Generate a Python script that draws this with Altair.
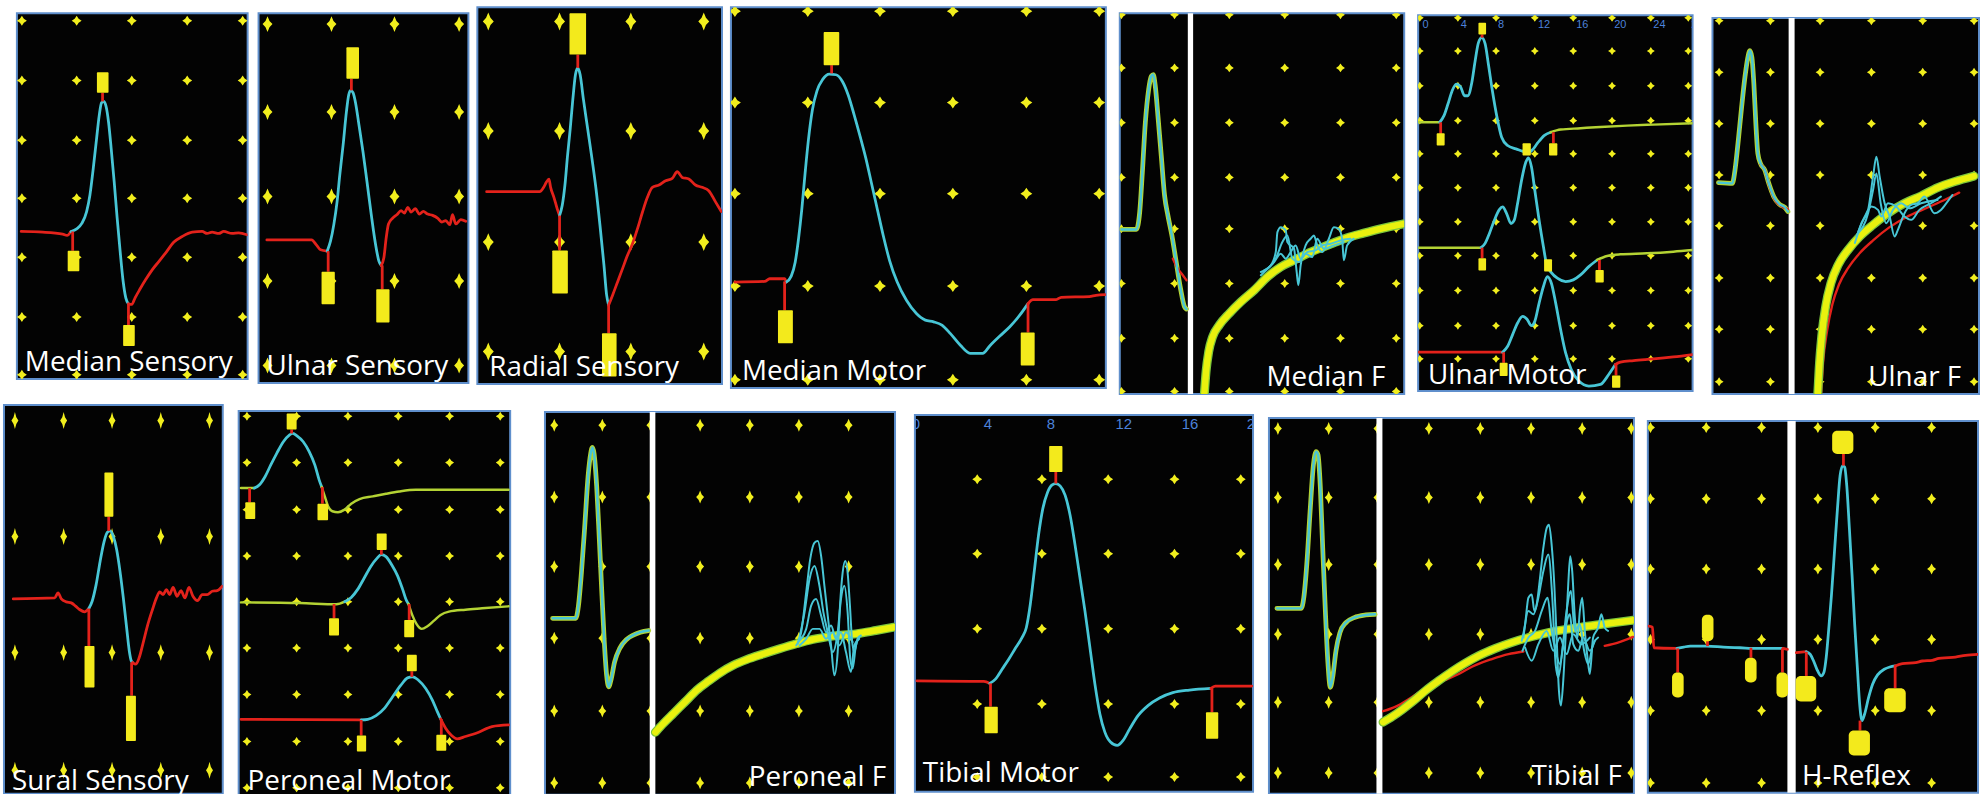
import altair as alt
import pandas as pd

# ---------------- colours / line styles ----------------
BORDER = "#5f8fcc"
BG = "#030303"
DOT = "#f1ee1d"
MARK = "#f3ea1c"
RED = "#e3221b"
CYAN = "#48c6d6"
LIME = "#b4d334"
GREEN = "#7cc63a"
BAND = "#e9f10e"
AXBLUE = "#4c82da"
STYLE = {
    "red": (RED, 2.8), "cyan": (CYAN, 2.8), "lime": (LIME, 2.5),
    "edge": (GREEN, 9.0), "band": (BAND, 6.5), "fw": (CYAN, 2.0),
    "sup": (LIME, 4.8), "supc": (CYAN, 2.4), "redthin": (RED, 2.4),
}

# ---------------- data (trace samples, panel units) ----------------
# Median Sensory
MS_COLS = [57, 222, 388, 555, 722]
MS_ROWS = [45, 225, 405, 580, 758, 938, 1112]
MS_BASE = [(55, 680), (120, 682), (180, 688), (193, 692), (205, 680)]
MS_WAVE = [(205, 680), (222, 672), (238, 655), (252, 620), (262, 570), (272, 490), (282, 400), (290, 330),
           (297, 292), (304, 288), (311, 305), (318, 350), (326, 430), (335, 530), (344, 640), (353, 740),
           (362, 830), (370, 880), (378, 898)]
MS_TAIL = [(378, 898), (388, 900), (398, 880), (412, 855), (430, 825), (450, 795), (470, 770), (492, 742),
           (515, 712), (540, 695), (570, 682), (600, 680), (615, 686), (630, 682), (650, 686), (665, 680),
           (690, 686), (710, 684), (735, 690)]
MS_TICKS = [(300, 288, 262), (210, 680, 738), (378, 900, 962)]
MS_MARKS = [(283, 318, 200, 262), (195, 230, 738, 800), (362, 397, 962, 1025)]

# Ulnar Sensory
US_COLS = [42, 235, 425, 620]
US_ROWS = [55, 320, 575, 830, 1085]
US_BASE = [(40, 706), (175, 706), (190, 722), (202, 736), (222, 740)]
US_WAVE = [(222, 740), (232, 710), (242, 660), (252, 590), (260, 510), (270, 420), (280, 320), (287, 268),
           (293, 255), (300, 262), (308, 295), (318, 360), (330, 440), (342, 530), (355, 630), (368, 720),
           (378, 770), (385, 783)]
US_TAIL = [(385, 783), (393, 760), (400, 700), (407, 658), (420, 640), (432, 630), (445, 618), (455, 625),
           (465, 608), (475, 622), (488, 612), (500, 628), (512, 620), (525, 628), (540, 632), (555, 640),
           (568, 652), (580, 648), (592, 660), (600, 630), (610, 658), (625, 645), (640, 650)]
US_TICKS = [(295, 255, 220), (225, 740, 802), (388, 783, 855)]
US_MARKS = [(280, 318, 125, 220), (205, 245, 802, 900), (370, 410, 855, 955)]

# Radial Sensory
RS_COLS = [695, 910, 1125, 1345]
RS_ROWS = [55, 385, 720, 1050]
RS_BASE = [(690, 568), (850, 568), (862, 555), (870, 540), (878, 530), (883, 555), (893, 585), (903, 620),
           (910, 640)]
RS_WAVE = [(910, 640), (918, 610), (926, 550), (934, 460), (942, 380), (950, 290), (958, 215), (965, 195),
           (972, 215), (982, 290), (995, 380), (1008, 470), (1020, 560), (1032, 670), (1044, 790),
           (1052, 880), (1058, 910)]
RS_TAIL = [(1058, 910), (1070, 880), (1085, 840), (1100, 800), (1115, 760), (1130, 725), (1145, 680),
           (1160, 630), (1175, 585), (1190, 555), (1210, 548), (1230, 535), (1250, 528), (1265, 508),
           (1280, 525), (1300, 530), (1320, 548), (1340, 555), (1360, 565), (1380, 598), (1398, 628)]
RS_TICKS = [(965, 195, 155), (910, 640, 745), (1058, 910, 995)]
RS_MARKS = [(940, 990, 30, 155), (888, 935, 745, 875), (1038, 1082, 995, 1125)]

# Median Motor
MM_COLS = [30, 250, 468, 688, 910, 1130]
MM_ROWS = [22, 298, 573, 852, 1135]
MM_BASE = [(30, 840), (120, 838), (135, 830), (180, 830), (185, 840)]
MM_WAVE = [(185, 840), (200, 822), (212, 780), (222, 710), (232, 620), (242, 510), (252, 410), (264, 320),
           (278, 262), (295, 228), (315, 212), (335, 214), (355, 235), (372, 275), (390, 335), (408, 400),
           (425, 465), (442, 540), (460, 620), (478, 700), (497, 775), (520, 840), (548, 895), (578, 935),
           (605, 955), (630, 960), (655, 970), (680, 995), (710, 1030), (740, 1055), (778, 1055),
           (800, 1032), (830, 1003), (860, 975), (890, 940), (915, 905)]
MM_TAIL = [(915, 905), (930, 893), (1000, 893), (1015, 886), (1100, 884), (1120, 880), (1148, 878)]
MM_TICKS = [(322, 210, 185), (180, 838, 925), (915, 905, 992)]
MM_MARKS = [(298, 345, 85, 185), (160, 205, 925, 1025), (893, 935, 992, 1092)]

# Median F
MF_COLS = [20, 180, 345, 512, 680, 848]
MF_ROWS = [25, 185, 350, 515, 670, 835, 1000, 1160]
MF_LEFT = [(20, 672), (65, 672), (75, 620), (83, 500), (92, 350), (102, 250), (110, 210), (116, 205),
           (122, 240), (130, 330), (140, 450), (150, 570), (160, 630), (172, 690), (185, 770), (198, 850),
           (210, 905), (216, 912)]
MF_LEFT_RED = [(175, 760), (190, 790), (205, 810), (216, 825)]
MF_BAND = [(270, 1165), (275, 1100), (283, 1040), (295, 995), (315, 960), (345, 925), (380, 890),
           (420, 855), (460, 815), (500, 785), (540, 765), (580, 745), (620, 728), (660, 712), (700, 697),
           (750, 683), (800, 670), (870, 655)]
MF_F1 = [(440, 800), (470, 780), (485, 740), (490, 680), (500, 665), (515, 675), (520, 710), (540, 730),
         (548, 800), (553, 840), (560, 780), (575, 720), (590, 700), (600, 690), (610, 720), (625, 740),
         (645, 700), (660, 665), (675, 670), (685, 700), (690, 765), (700, 720), (720, 700)]
MF_F2 = [(440, 810), (480, 770), (500, 745), (515, 760), (530, 740), (545, 720), (560, 760), (580, 740),
         (605, 735), (625, 720), (650, 715), (680, 705), (710, 700)]
MF_F3 = [(450, 795), (485, 760), (505, 710), (520, 690), (535, 760), (555, 770), (575, 745), (595, 755),
         (610, 700), (630, 730), (660, 720), (690, 710)]

# Ulnar Motor
UM_COLS = [15, 130, 245, 362, 478, 595, 712, 825]
UM_ROWS = [40, 140, 245, 350, 450, 552, 655, 757, 862, 968, 1068]
UM_A_BASE = [(10, 355), (75, 355)]
UM_A_WAVE = [(75, 355), (88, 335), (100, 300), (112, 262), (125, 240), (138, 248), (150, 275), (160, 275),
             (172, 235), (182, 170), (192, 115), (202, 100), (212, 118), (222, 180), (234, 260), (248, 340),
             (262, 400), (280, 425), (305, 435), (325, 442), (340, 448), (355, 438), (370, 418), (390, 395),
             (410, 385)]
UM_A_TAIL = [(410, 385), (440, 377), (500, 373), (560, 369), (640, 365), (720, 362), (838, 358)]
UM_B_BASE = [(10, 733), (200, 733)]
UM_B_WAVE = [(200, 733), (212, 720), (225, 690), (240, 650), (255, 618), (265, 610), (277, 630), (290, 660),
             (300, 650), (310, 600), (322, 530), (335, 475), (343, 462), (352, 490), (362, 560), (375, 650),
             (388, 730), (398, 785), (412, 808), (430, 825), (455, 835), (478, 830), (500, 815), (525, 790),
             (550, 770)]
UM_B_TAIL = [(550, 770), (580, 758), (620, 753), (700, 750), (780, 745), (838, 740)]
UM_C_BASE = [(10, 1048), (265, 1048)]
UM_C_WAVE = [(265, 1048), (280, 1030), (295, 995), (310, 960), (325, 940), (338, 948), (352, 968),
             (362, 955), (375, 900), (388, 850), (400, 820), (412, 840), (425, 900), (440, 980), (455, 1050),
             (472, 1100), (495, 1135), (525, 1150), (560, 1145), (585, 1115), (605, 1085)]
UM_C_TAIL = [(605, 1085), (620, 1078), (660, 1073), (720, 1068), (780, 1062), (838, 1055)]
UM_TICKS = [(78, 355, 390), (203, 100, 90), (418, 385, 418), (203, 733, 765), (557, 770, 800),
            (268, 1048, 1080), (607, 1085, 1118)]
UM_MARKS = [(66, 90, 388, 425), (192, 215, 55, 90), (325, 350, 418, 455), (405, 430, 418, 455),
            (192, 215, 765, 802), (390, 414, 768, 805), (545, 570, 800, 838), (256, 280, 1080, 1120),
            (595, 620, 1118, 1155)]
UM_AXIS_TEXT = ["0", "4", "8", "12", "16", "20", "24", "28"]
UM_AXIS_X = [32, 148, 260, 390, 505, 620, 738, 852]

# Ulnar F
UF_COLS = [40, 195, 345, 500, 655, 810]
UF_ROWS = [50, 205, 360, 515, 668, 825, 980, 1138]
UF_LEFT = [(38, 538), (80, 540), (88, 500), (98, 410), (108, 310), (118, 220), (126, 165), (133, 140),
           (139, 160), (145, 240), (151, 360), (157, 450), (165, 480), (178, 500), (190, 540), (205, 580),
           (222, 603), (238, 612), (248, 625)]
UF_LEFT_RED = [(165, 482), (178, 500), (192, 548), (210, 592), (230, 610), (248, 618)]
UF_RED = [(348, 1175), (354, 1080), (366, 985), (382, 905), (402, 845), (430, 795), (465, 750), (505, 712),
          (555, 672), (605, 642), (665, 615), (725, 588), (765, 568)]
UF_BAND = [(338, 1175), (342, 1100), (350, 1000), (362, 910), (378, 840), (400, 785), (430, 740),
           (465, 700), (505, 665), (550, 630), (600, 600), (650, 578), (700, 553), (750, 535), (810, 518)]
UF_F1 = [(450, 720), (470, 660), (490, 620), (505, 520), (515, 460), (525, 520), (540, 600), (555, 640),
         (570, 700), (580, 680), (600, 630), (620, 605), (640, 600), (660, 580), (690, 630), (710, 620),
         (730, 595), (745, 575)]
UF_F2 = [(455, 700), (480, 640), (500, 610), (520, 620), (530, 640), (550, 600), (575, 610), (600, 640),
         (620, 650), (645, 620), (680, 600), (710, 580)]
UF_F3 = [(460, 690), (490, 630), (505, 560), (515, 510), (528, 600), (545, 660), (565, 620), (590, 600),
         (615, 615), (650, 600), (700, 590)]

# Sural Sensory
SS_COLS = [45, 192, 338, 485, 632]
SS_ROWS = [65, 415, 765, 1120]
SS_BASE = [(40, 603), (165, 600), (175, 585), (185, 603), (200, 612), (215, 615), (228, 625), (240, 635),
           (255, 642), (268, 632)]
SS_WAVE = [(268, 632), (278, 610), (290, 560), (302, 490), (314, 430), (324, 402), (332, 398), (342, 415),
           (352, 455), (362, 520), (372, 600), (382, 690), (390, 760), (396, 790), (400, 795)]
SS_TAIL = [(400, 795), (410, 800), (420, 780), (432, 735), (446, 680), (460, 635), (472, 600), (482, 582),
           (492, 590), (502, 575), (512, 590), (522, 568), (534, 595), (546, 578), (558, 600), (570, 568),
           (582, 595), (596, 608), (610, 590), (625, 590), (640, 580), (655, 578), (670, 565)]
SS_TICKS = [(328, 398, 355), (268, 632, 745), (397, 795, 895)]
SS_MARKS = [(315, 342, 222, 355), (255, 285, 745, 870), (380, 410, 895, 1032)]

# Peroneal Motor
PM_COLS = [740, 890, 1045, 1197, 1352, 1505]
PM_ROWS = [48, 188, 330, 470, 608, 748, 888, 1030, 1170]
PM_A_BASE = [(722, 265), (762, 265)]
PM_A_WAVE = [(762, 265), (778, 255), (795, 230), (812, 195), (830, 160), (850, 125), (868, 105), (878, 100),
             (892, 108), (910, 125), (928, 155), (945, 195), (958, 240), (966, 262)]
PM_A_TAIL = [(966, 262), (975, 290), (985, 320), (998, 335), (1015, 338), (1035, 330), (1055, 312),
             (1080, 298), (1120, 290), (1160, 282), (1200, 275), (1250, 270), (1400, 270), (1530, 270)]
PM_B_BASE = [(722, 610), (900, 612), (1010, 616), (1035, 608)]
PM_B_WAVE = [(1035, 608), (1055, 595), (1075, 570), (1095, 535), (1115, 500), (1132, 478), (1146, 466),
             (1160, 472), (1178, 498), (1195, 530), (1210, 570), (1222, 605), (1228, 615)]
PM_B_TAIL = [(1228, 615), (1240, 650), (1252, 675), (1268, 690), (1285, 682), (1305, 665), (1325, 648),
             (1350, 638), (1400, 632), (1450, 628), (1530, 622)]
PM_C_BASE = [(722, 963), (1085, 965)]
PM_C_WAVE = [(1085, 965), (1105, 963), (1130, 952), (1155, 930), (1180, 895), (1205, 860), (1225, 838),
             (1240, 835), (1258, 845), (1280, 870), (1300, 905), (1315, 940), (1325, 962)]
PM_C_TAIL = [(1325, 962), (1340, 990), (1358, 1012), (1375, 1022), (1400, 1015), (1440, 1002),
             (1480, 985), (1530, 980)]
PM_TICKS = [(748, 265, 308), (875, 100, 88), (968, 262, 312), (1146, 466, 452), (1003, 615, 658),
            (1230, 615, 663), (1238, 835, 818), (1085, 965, 1012), (1327, 962, 1010)]
PM_MARKS = [(735, 765, 308, 358), (860, 890, 40, 88), (953, 985, 312, 362), (1132, 1162, 402, 452),
            (988, 1018, 658, 710), (1215, 1245, 663, 715), (1223, 1253, 768, 818),
            (1072, 1100, 1012, 1060), (1312, 1342, 1010, 1058)]

# Peroneal F
PF_COLS = [40, 185, 330, 480, 630, 778, 928]
PF_ROWS = [75, 292, 502, 718, 938, 1155]
PF_LEFT = [(35, 658), (105, 658), (113, 620), (122, 520), (132, 380), (142, 230), (150, 160), (155, 142),
           (160, 160), (168, 260), (176, 420), (184, 590), (191, 730), (198, 830), (204, 865), (212, 840),
           (222, 790), (238, 748), (258, 722), (280, 708), (300, 700), (325, 695)]
PF_BAND = [(345, 1002), (370, 975), (400, 945), (435, 910), (470, 875), (505, 848), (540, 823), (580, 800),
           (620, 783), (670, 766), (720, 750), (770, 735), (820, 722), (880, 712), (950, 705), (1010, 695),
           (1065, 685)]
PF_F1 = [(770, 740), (785, 700), (800, 580), (812, 480), (825, 430), (835, 425), (845, 470), (855, 560),
         (865, 650), (875, 740), (885, 830), (895, 760), (902, 620), (910, 520), (918, 485), (925, 520),
         (932, 620), (938, 720), (945, 760), (955, 720), (965, 710)]
PF_F2 = [(775, 735), (795, 640), (810, 540), (825, 500), (840, 560), (852, 640), (865, 700), (880, 760),
         (895, 700), (905, 600), (915, 560), (925, 640), (933, 780), (940, 810), (950, 740), (960, 715)]
PF_F3 = [(775, 730), (800, 690), (815, 620), (830, 600), (845, 650), (860, 700), (875, 680), (890, 720),
         (905, 700), (920, 760), (935, 820), (945, 740), (960, 720)]
PF_F4 = [(780, 740), (800, 720), (820, 690), (840, 690), (860, 720), (880, 700), (900, 740), (920, 700),
         (940, 730)]

# Tibial Motor
TM_COLS = [230, 425, 625, 825, 1025]
TM_ROWS = [242, 467, 693, 920, 1140]
TM_BASE = [(48, 850), (250, 852), (268, 858)]
TM_WAVE = [(268, 858), (285, 845), (305, 815), (325, 785), (345, 752), (365, 720), (378, 690), (390, 620),
           (402, 520), (415, 410), (428, 330), (442, 282), (455, 260), (467, 255), (480, 262), (495, 290),
           (510, 350), (525, 440), (540, 540), (555, 640), (570, 750), (585, 860), (600, 950), (615, 1005),
           (632, 1035), (652, 1045), (670, 1030), (690, 995), (715, 955), (745, 925), (780, 902),
           (820, 886), (870, 878), (935, 873)]
TM_TAIL = [(935, 873), (948, 866), (1058, 866)]
TM_TICKS = [(467, 255, 220), (270, 858, 928), (938, 873, 945)]
TM_MARKS = [(447, 487, 142, 220), (252, 292, 928, 1008), (920, 957, 945, 1025)]
TM_AXIS_TEXT = ["0", "4", "8", "12", "16", "20"]
TM_AXIS_X = [45, 262, 452, 672, 872, 1068]

# Tibial F
TF_COLS = [35, 188, 335, 490, 645, 798, 952, 1100]
TF_ROWS = [90, 298, 500, 710, 915, 1128]
TF_LEFT = [(32, 632), (105, 632), (113, 600), (122, 500), (132, 340), (142, 200), (150, 160), (156, 170),
           (163, 270), (170, 450), (178, 640), (186, 800), (193, 870), (200, 840), (210, 760), (222, 705),
           (240, 675), (265, 660), (300, 652), (328, 650)]
TF_RED1 = [(352, 942), (390, 928), (430, 905), (480, 872), (540, 848), (580, 830), (620, 808), (680, 785),
           (730, 770), (775, 762)]
TF_RED2 = [(1020, 745), (1060, 735), (1105, 718)]
TF_BAND = [(352, 975), (380, 958), (410, 937), (445, 910), (480, 880), (520, 850), (560, 822), (600, 797),
           (640, 775), (690, 753), (740, 735), (790, 720), (850, 705), (920, 693), (990, 683), (1050, 675),
           (1105, 668)]
TF_F1 = [(770, 730), (780, 680), (790, 600), (800, 590), (808, 640), (815, 620), (825, 540), (835, 450),
         (845, 390), (852, 380), (860, 440), (868, 560), (875, 720), (882, 880), (888, 925), (895, 850),
         (902, 720), (910, 560), (916, 475), (922, 520), (930, 660), (938, 720), (945, 640), (952, 600),
         (960, 700), (968, 780), (975, 830), (985, 720), (1000, 690), (1010, 650), (1020, 690), (1030, 700)]
TF_F2 = [(775, 720), (790, 640), (805, 650), (820, 600), (835, 520), (850, 470), (862, 600), (872, 800),
         (880, 840), (892, 760), (905, 640), (918, 580), (930, 700), (945, 680), (958, 760), (970, 800),
         (985, 740), (1000, 720)]
TF_F3 = [(772, 760), (790, 720), (810, 700), (830, 640), (848, 600), (860, 700), (872, 760), (885, 800),
         (900, 700), (915, 650), (925, 740), (940, 760), (955, 720), (975, 760), (990, 730)]
TF_F4 = [(780, 750), (800, 790), (820, 740), (845, 700), (865, 760), (885, 720), (905, 770), (925, 710),
         (950, 740), (975, 720)]

# H-Reflex
HR_COLS = [30, 198, 365, 535, 708, 878]
HR_ROWS = [85, 300, 512, 725, 940, 1158]
HR_BASE1 = [(24, 685), (36, 688), (40, 750), (110, 752)]
HR_MID = [(110, 752), (130, 748), (150, 745), (200, 745), (250, 748), (300, 750), (350, 752), (430, 752)]
HR_BASE2 = [(430, 752), (443, 755)]
HR_BASE3 = [(470, 765), (500, 762)]
HR_WAVE = [(500, 762), (512, 770), (522, 790), (532, 815), (545, 835), (553, 825), (560, 780), (568, 690),
           (576, 590), (585, 460), (594, 330), (602, 230), (610, 200), (616, 205), (622, 260), (630, 390),
           (638, 530), (646, 680), (654, 810), (661, 920), (668, 970), (676, 950), (688, 900), (700, 860),
           (715, 832), (735, 815), (752, 808), (768, 805)]
HR_TAIL = [(768, 805), (790, 798), (830, 795), (850, 790), (880, 788), (900, 782), (930, 780), (950, 778),
           (980, 773), (1018, 770)]
HR_TICKS = [(202, 745, 730), (112, 752, 825), (333, 750, 780), (428, 752, 825), (500, 762, 835),
            (612, 200, 165), (662, 970, 1000), (768, 805, 872)]
HR_MARKS = [(185, 220, 650, 730), (95, 130, 825, 900), (315, 350, 780, 855), (410, 445, 825, 900),
            (468, 530, 835, 912), (578, 642, 95, 165), (628, 692, 1000, 1075), (735, 800, 872, 945)]

LABELS = {
    "ms": "Median Sensory", "us": "Ulnar Sensory", "rs": "Radial Sensory", "mm": "Median Motor",
    "mf": "Median F", "um": "Ulnar Motor", "uf": "Ulnar F", "ss": "Sural Sensory",
    "pm": "Peroneal Motor", "pf": "Peroneal F", "tm": "Tibial Motor", "tf": "Tibial F", "hr": "H-Reflex",
}

# ---------------- panel specifications ----------------
PANELS = {
    "ms": dict(xd=[42, 737], yd=[22, 1125], size=(232, 368), cols=MS_COLS, rows=MS_ROWS, dot=(10, 10),
               traces=[(MS_BASE, "red"), (MS_WAVE, "cyan"), (MS_TAIL, "red")],
               ticks=MS_TICKS, marks=MS_MARKS, lab=("left", 8, 8)),
    "us": dict(xd=[15, 648], yd=[22, 1138], size=(211, 372), cols=US_COLS, rows=US_ROWS, dot=(10, 16),
               traces=[(US_BASE, "red"), (US_WAVE, "cyan"), (US_TAIL, "red")],
               ticks=US_TICKS, marks=US_MARKS, lab=("left", 8, 8)),
    "rs": dict(xd=[662, 1400], yd=[12, 1148], size=(246, 379), cols=RS_COLS, rows=RS_ROWS, dot=(11, 18),
               traces=[(RS_BASE, "red"), (RS_WAVE, "cyan"), (RS_TAIL, "red")],
               ticks=RS_TICKS, marks=RS_MARKS, lab=("left", 12, 8)),
    "mm": dict(xd=[18, 1150], yd=[10, 1160], size=(377, 383), cols=MM_COLS, rows=MM_ROWS, dot=(12, 12),
               traces=[(MM_BASE, "red"), (MM_WAVE, "cyan"), (MM_TAIL, "red")],
               ticks=MM_TICKS, marks=MM_MARKS, lab=("left", 11, 8)),
    "mf": dict(xd=[15, 872], yd=[20, 1168], size=(286, 383), cols=MF_COLS, rows=MF_ROWS, dot=(9, 9),
               div=(220, 236),
               traces=[(MF_LEFT, "sup"), (MF_LEFT_RED, "redthin"), (MF_LEFT, "supc"),
                       (MF_BAND, "edge"), (MF_BAND, "band"), (MF_F2, "fw"), (MF_F3, "fw"), (MF_F1, "fw")],
               ticks=[], marks=[], lab=("right", 19, 8)),
    "um": dict(xd=[10, 838], yd=[32, 1165], size=(276, 378), cols=UM_COLS, rows=UM_ROWS, dot=(8, 8),
               traces=[(UM_A_BASE, "lime"), (UM_A_WAVE, "cyan"), (UM_A_TAIL, "lime"),
                       (UM_B_BASE, "lime"), (UM_B_WAVE, "cyan"), (UM_B_TAIL, "lime"),
                       (UM_C_BASE, "red"), (UM_C_WAVE, "cyan"), (UM_C_TAIL, "red")],
               ticks=UM_TICKS, marks=UM_MARKS, lab=("left", 10, 7),
               axis=(UM_AXIS_TEXT, UM_AXIS_X, 62, 11)),
    "uf": dict(xd=[20, 825], yd=[42, 1175], size=(268, 378), cols=UF_COLS, rows=UF_ROWS, dot=(9, 9),
               div=(250, 268),
               traces=[(UF_LEFT, "sup"), (UF_LEFT_RED, "redthin"), (UF_LEFT, "supc"),
                       (UF_RED, "redthin"), (UF_BAND, "edge"), (UF_BAND, "band"),
                       (UF_F2, "fw"), (UF_F3, "fw"), (UF_F1, "fw")],
               ticks=[], marks=[], lab=("right", 18, 8)),
    "ss": dict(xd=[12, 672], yd=[18, 1191], size=(220, 391), cols=SS_COLS, rows=SS_ROWS, dot=(7, 17),
               traces=[(SS_BASE, "red"), (SS_WAVE, "cyan"), (SS_TAIL, "red")],
               ticks=SS_TICKS, marks=SS_MARKS, lab=("left", 8, 4)),
    "pm": dict(xd=[715, 1535], yd=[32, 1194], size=(273, 387), cols=PM_COLS, rows=PM_ROWS, dot=(9, 9),
               traces=[(PM_A_BASE, "lime"), (PM_A_WAVE, "cyan"), (PM_A_TAIL, "lime"),
                       (PM_B_BASE, "lime"), (PM_B_WAVE, "cyan"), (PM_B_TAIL, "lime"),
                       (PM_C_BASE, "red"), (PM_C_WAVE, "cyan"), (PM_C_TAIL, "red")],
               ticks=PM_TICKS, marks=PM_MARKS, lab=("left", 9, 6)),
    "pf": dict(xd=[12, 1068], yd=[35, 1191], size=(352, 385), cols=PF_COLS, rows=PF_ROWS, dot=(8, 13),
               div=(328, 345),
               traces=[(PF_LEFT, "sup"), (PF_LEFT, "supc"), (PF_BAND, "edge"), (PF_BAND, "band"),
                       (PF_F4, "fw"), (PF_F3, "fw"), (PF_F2, "fw"), (PF_F1, "fw")],
               ticks=[], marks=[], lab=("right", 9, 9)),
    "tm": dict(xd=[42, 1062], yd=[48, 1185], size=(340, 379), cols=TM_COLS, rows=TM_ROWS, dot=(10, 10),
               traces=[(TM_BASE, "red"), (TM_WAVE, "cyan"), (TM_TAIL, "red")],
               ticks=TM_TICKS, marks=TM_MARKS, lab=("left", 8, 10),
               axis=(TM_AXIS_TEXT, TM_AXIS_X, 75, 15)),
    "tf": dict(xd=[8, 1108], yd=[58, 1191], size=(367, 378), cols=TF_COLS, rows=TF_ROWS, dot=(8, 13),
               div=(332, 350),
               traces=[(TF_LEFT, "sup"), (TF_LEFT, "supc"), (TF_RED1, "redthin"), (TF_RED2, "redthin"),
                       (TF_BAND, "edge"), (TF_BAND, "band"),
                       (TF_F4, "fw"), (TF_F3, "fw"), (TF_F2, "fw"), (TF_F1, "fw")],
               ticks=[], marks=[], lab=("right", 12, 9)),
    "hr": dict(xd=[22, 1018], yd=[65, 1188], size=(332, 374), cols=HR_COLS, rows=HR_ROWS, dot=(9, 11),
               div=(443, 468),
               traces=[(HR_BASE1, "red"), (HR_MID, "cyan"), (HR_BASE2, "red"), (HR_BASE3, "red"),
                       (HR_WAVE, "cyan"), (HR_TAIL, "red")],
               ticks=HR_TICKS, marks=HR_MARKS, lab=("left", 155, 8), radius=5),
}


def star_path(a):
    k = 0.4
    pts = [(0, -1), (k * a, -k), (a, 0), (k * a, k), (0, 1), (-k * a, k), (-a, 0), (-k * a, -k)]
    return "M" + "L".join(f"{x:.3f},{y:.3f}" for x, y in pts) + "Z"


def build_panel(key):
    p = PANELS[key]
    w, h = p["size"]
    xs = alt.Scale(domain=p["xd"], nice=False, zero=False)
    ys = alt.Scale(domain=p["yd"], nice=False, zero=False, reverse=True)

    def ex(f):
        return alt.X(f"{f}:Q", scale=xs, axis=None)

    def ey(f):
        return alt.Y(f"{f}:Q", scale=ys, axis=None)

    layers = []
    dots = pd.DataFrame([(cx, ry) for ry in p["rows"] for cx in p["cols"]], columns=["x", "y"])
    dw, dh = p["dot"]
    layers.append(
        alt.Chart(dots).mark_point(shape=star_path(dw / dh), filled=True, color=DOT, opacity=1,
                                   size=dh * dh, clip=True, strokeWidth=0)
        .encode(x=ex("x"), y=ey("y"))
    )
    if "div" in p:
        ddf = pd.DataFrame([{"x0": p["div"][0], "x1": p["div"][1]}])
        layers.append(
            alt.Chart(ddf).mark_rect(color="white")
            .encode(x=ex("x0"), x2="x1:Q", y=alt.value(0), y2=alt.value(h))
        )
    rows = []
    for ti, (pts, st) in enumerate(p["traces"]):
        c, sw = STYLE[st]
        for i, (x, y) in enumerate(pts):
            rows.append(dict(tr=f"t{ti:02d}", i=i, x=x, y=y, c=c, sw=sw))
    tdf = pd.DataFrame(rows)
    layers.append(
        alt.Chart(tdf).mark_line(clip=True, strokeJoin="round", strokeCap="round", interpolate="monotone")
        .encode(x=ex("x"), y=ey("y"), detail="tr:N", order="i:Q",
                color=alt.Color("c:N", scale=None), strokeWidth=alt.StrokeWidth("sw:Q", scale=None))
    )
    if p["ticks"]:
        kdf = pd.DataFrame(p["ticks"], columns=["x", "y1", "y2"])
        layers.append(
            alt.Chart(kdf).mark_rule(color=RED, strokeWidth=2.8)
            .encode(x=ex("x"), y=ey("y1"), y2="y2:Q")
        )
    if p["marks"]:
        mdf = pd.DataFrame(p["marks"], columns=["x1", "x2", "y1", "y2"])
        layers.append(
            alt.Chart(mdf).mark_rect(color=MARK, cornerRadius=p.get("radius", 1))
            .encode(x=ex("x1"), x2="x2:Q", y=ey("y1"), y2="y2:Q")
        )
    if "axis" in p:
        texts, xs_, yv, fs = p["axis"]
        adf = pd.DataFrame({"x": xs_, "t": texts, "y": [yv] * len(texts)})
        layers.append(
            alt.Chart(adf).mark_text(color=AXBLUE, fontSize=fs, font="Liberation Sans", clip=True,
                                     baseline="middle", align="center")
            .encode(x=ex("x"), y=ey("y"), text="t:N")
        )
    align, dx, dy = p["lab"]
    ldf = pd.DataFrame([{"t": LABELS[key]}])
    layers.append(
        alt.Chart(ldf).mark_text(align=align, baseline="alphabetic", font="Open Sans", fontSize=28,
                                 color="white")
        .encode(x=alt.value(dx if align == "left" else w - dx), y=alt.value(h - dy), text="t:N")
    )
    return alt.layer(*layers).properties(
        width=w, height=h, view=alt.ViewBackground(fill=BG, stroke=BORDER, strokeWidth=2)
    )


SP = pd.DataFrame({"v": [0]})


def spacer(w, h):
    return alt.Chart(SP).mark_point(opacity=0).encode(
        x=alt.X("v:Q", axis=None), y=alt.Y("v:Q", axis=None)
    ).properties(width=w, height=h, view=alt.ViewBackground(fillOpacity=0, strokeOpacity=0))


def placed(key, dy):
    ch = build_panel(key)
    if dy <= 1:
        return ch
    return alt.vconcat(spacer(1, dy - 1), ch, spacing=0).resolve_scale(x="independent", y="independent")


def row(items):
    parts = []
    for key, gap, dy in items:
        if gap > 2:
            parts.append(spacer(gap - 2, 1))
        parts.append(placed(key, dy))
    return alt.hconcat(*parts, spacing=0).resolve_scale(x="independent", y="independent")


TOP = [("ms", 12, 4), ("us", 9, 4), ("rs", 5, 1), ("mm", 9, 0), ("mf", 12, 4), ("um", 12, 8), ("uf", 18, 11)]
BOTTOM = [("ss", 0, 0), ("pm", 14, 5), ("pf", 33, 6), ("tm", 18, 10), ("tf", 14, 13), ("hr", 12, 16)]

chart = alt.vconcat(row(TOP), row(BOTTOM), spacing=7).resolve_scale(
    x="independent", y="independent"
).properties(
    padding={"left": 3, "top": 2, "right": 0, "bottom": 0}
).configure(background="white")

chart.save("out.html", embed_options={"renderer": "svg", "actions": False})
